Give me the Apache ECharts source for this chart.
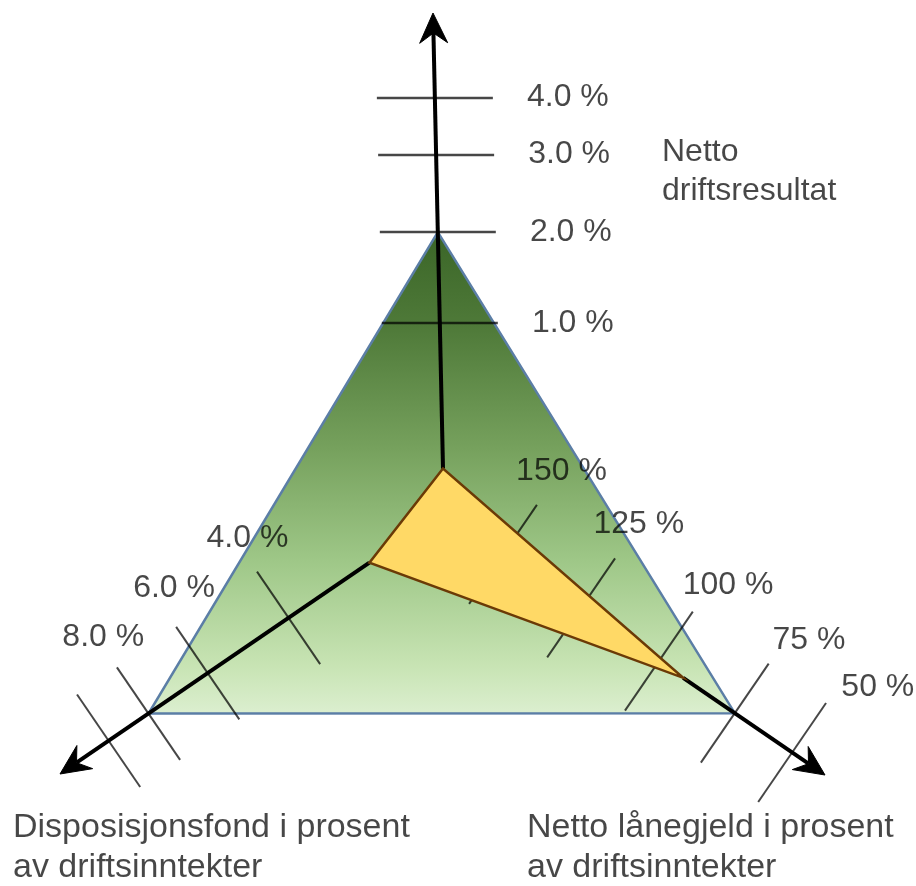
<!DOCTYPE html>
<html>
<head>
<meta charset="utf-8">
<script src="https://cdn.jsdelivr.net/npm/echarts@6/dist/echarts.min.js"></script>
<style>html,body{margin:0;padding:0;background:#fff}#c{width:916px;height:886px}</style>
</head>
<body>
<div id="c"></div>
<script>
// ---------------- data ----------------
const axisTitles = ['Netto\ndriftsresultat', 'Disposisjonsfond i prosent\nav driftsinntekter', 'Netto lånegjeld i prosent\nav driftsinntekter'];
const referenceValues = [2.0, 8.0, 75];      // green reference triangle
const actualValues = [-0.6, 2.0, 92];         // yellow polygon
const topTickValues = [1, 2, 3, 4];
const topTickLabels = ['1.0 %', '2.0 %', '3.0 %', '4.0 %'];
const leftTickValues = [4, 6, 8, 10];
const leftTickLabels = ['4.0 %', '6.0 %', '8.0 %', ''];
const rightTickValues = [150, 125, 100, 75, 50];
const rightTickLabels = ['150 %', '125 %', '100 %', '75 %', '50 %'];

const tickValues = [topTickValues, leftTickValues, rightTickValues];
const tickLabels = [topTickLabels, leftTickLabels, rightTickLabels];

// ---------------- layout (pixel space of the hidden grid) ----------------
const W = 916, H = 886;
const axesLayout = [
  { origin: [443, 468], end: [433, 13], stops: [145, 236, 313, 370], side: 1, tickDir: [1, 0], tickHalf: 58, tickWidth: 2.5, labelPerp: 133, labelAlong: [-3, -3, -2, -2] },
  { origin: [369, 563], end: [60, 774], stops: [97.4, 195.3, 267, 315.3], side: 1, tickHalf: 56, tickWidth: 2, labelPerp: 89, labelAlong: [-11, -20, -6, 0] },
  { origin: [682, 677], end: [825, 775], stops: [-217, -122.3, -28, 64, 133.5], side: -1, tickHalf: 60, tickWidth: 2, labelPerp: 102, labelAlong: [1, 0, 14, 20, 34] }
];
const FONT = '"Liberation Sans", Arial, Helvetica, sans-serif';
const TEXT = 'rgba(0,0,0,0.72)';

const geo = axesLayout.map(L => {
  const dx = L.end[0] - L.origin[0], dy = L.end[1] - L.origin[1], len = Math.hypot(dx, dy);
  const ux = dx / len, uy = dy / len;
  const px = -uy * L.side, py = ux * L.side;
  const td = L.tickDir || [px, py];
  return { ux, uy, len, px, py, tx: td[0], ty: td[1] };
});

function distOf(a, v) {
  const vals = tickValues[a], st = axesLayout[a].stops, n = vals.length;
  const sgn = vals[n - 1] - vals[0];
  let i = 0;
  while (i < n - 2 && (v - vals[i + 1]) * sgn > 0) i++;
  const t = (v - vals[i]) / (vals[i + 1] - vals[i]);
  return st[i] + t * (st[i + 1] - st[i]);
}
function pointAt(a, d) {
  const L = axesLayout[a], g = geo[a];
  return [L.origin[0] + g.ux * d, L.origin[1] + g.uy * d];
}
function valuePoint(a, v) { return pointAt(a, distOf(a, v)); }

// tick items built from the tick arrays
const tickItems = [];
tickValues.forEach((vals, a) => vals.forEach((v, i) => tickItems.push([a, v, i])));

const chart = echarts.init(document.getElementById('c'), null, { renderer: 'canvas' });

function polyItem(values, style) {
  return function (params, api) {
    const pts = values.map((v, a) => api.coord(valuePoint(a, v)));
    return { type: 'polygon', shape: { points: pts }, style: style };
  };
}

chart.setOption({
  animation: false,
  grid: { left: 0, right: 0, top: 0, bottom: 0 },
  xAxis: { type: 'value', min: 0, max: W, show: false },
  yAxis: { type: 'value', min: 0, max: H, inverse: true, show: false },
  series: [
    {
      name: 'Referanse', type: 'custom', silent: true,
      data: [referenceValues],
      renderItem: polyItem(referenceValues, {
        fill: new echarts.graphic.LinearGradient(0, 0, 0, 1, [
          { offset: 0, color: '#3a6527' },
          { offset: 0.2, color: '#4f7a39' },
          { offset: 0.45, color: '#76a15d' },
          { offset: 0.68, color: '#9ec787' },
          { offset: 0.9, color: '#c8e4b4' },
          { offset: 1, color: '#dcefd0' }
        ]),
        stroke: '#5b7ea6', lineWidth: 2.5, lineJoin: 'miter'
      })
    },
    {
      name: 'Ticks', type: 'custom', silent: true,
      data: tickItems,
      renderItem: function (params, api) {
        const [a, v, i] = tickItems[params.dataIndex];
        const L = axesLayout[a], g = geo[a];
        const c = valuePoint(a, v);
        const p1 = api.coord([c[0] - g.tx * L.tickHalf, c[1] - g.ty * L.tickHalf]);
        const p2 = api.coord([c[0] + g.tx * L.tickHalf, c[1] + g.ty * L.tickHalf]);
        const lp = api.coord([c[0] + g.px * L.labelPerp + g.ux * L.labelAlong[i],
                              c[1] + g.py * L.labelPerp + g.uy * L.labelAlong[i]]);
        const children = [{
          type: 'line', shape: { x1: p1[0], y1: p1[1], x2: p2[0], y2: p2[1] },
          style: { stroke: 'rgba(0,0,0,0.72)', lineWidth: L.tickWidth }
        }];
        const txt = tickLabels[a][i];
        if (txt) children.push({
          type: 'text', x: lp[0], y: lp[1],
          style: { text: txt, fill: TEXT, fontSize: 32, fontFamily: FONT, align: 'center', verticalAlign: 'middle' }
        });
        return { type: 'group', children: children };
      }
    },
    {
      name: 'Akser', type: 'custom', silent: true,
      data: actualValues.map((v, a) => [a, v]),
      renderItem: function (params, api) {
        const a = params.dataIndex, v = actualValues[a];
        const g = geo[a];
        const start = api.coord(valuePoint(a, v));
        const tipD = g.len;
        const tip = pointAt(a, tipD);
        const notch = pointAt(a, tipD - 20);
        const back = pointAt(a, tipD - 30);
        const hw = 14;
        const t = api.coord(tip), n = api.coord(notch);
        const bl = api.coord([back[0] + g.px * hw, back[1] + g.py * hw]);
        const br = api.coord([back[0] - g.px * hw, back[1] - g.py * hw]);
        return {
          type: 'group', children: [
            { type: 'line', shape: { x1: start[0], y1: start[1], x2: n[0], y2: n[1] }, style: { stroke: '#000', lineWidth: 4 } },
            { type: 'polygon', shape: { points: [t, bl, n, br] }, style: { fill: '#000', stroke: '#000', lineWidth: 1 } }
          ]
        };
      }
    },
    {
      name: 'Kommune', type: 'custom', silent: true,
      data: [actualValues],
      renderItem: polyItem(actualValues, { fill: '#ffd966', stroke: '#6b3a06', lineWidth: 2.5, lineJoin: 'miter' })
    }
  ],
  graphic: [
    { type: 'text', x: 662, y: 133, silent: true, style: { text: axisTitles[0], fill: TEXT, fontSize: 32, fontFamily: FONT, lineHeight: 39, verticalAlign: 'top' } },
    { type: 'text', x: 13, y: 808, silent: true, style: { text: axisTitles[1], fill: TEXT, fontSize: 34, fontFamily: FONT, lineHeight: 40, verticalAlign: 'top' } },
    { type: 'text', x: 527, y: 808, silent: true, style: { text: axisTitles[2], fill: TEXT, fontSize: 34, fontFamily: FONT, lineHeight: 40, verticalAlign: 'top' } }
  ]
});
</script>
</body>
</html>
